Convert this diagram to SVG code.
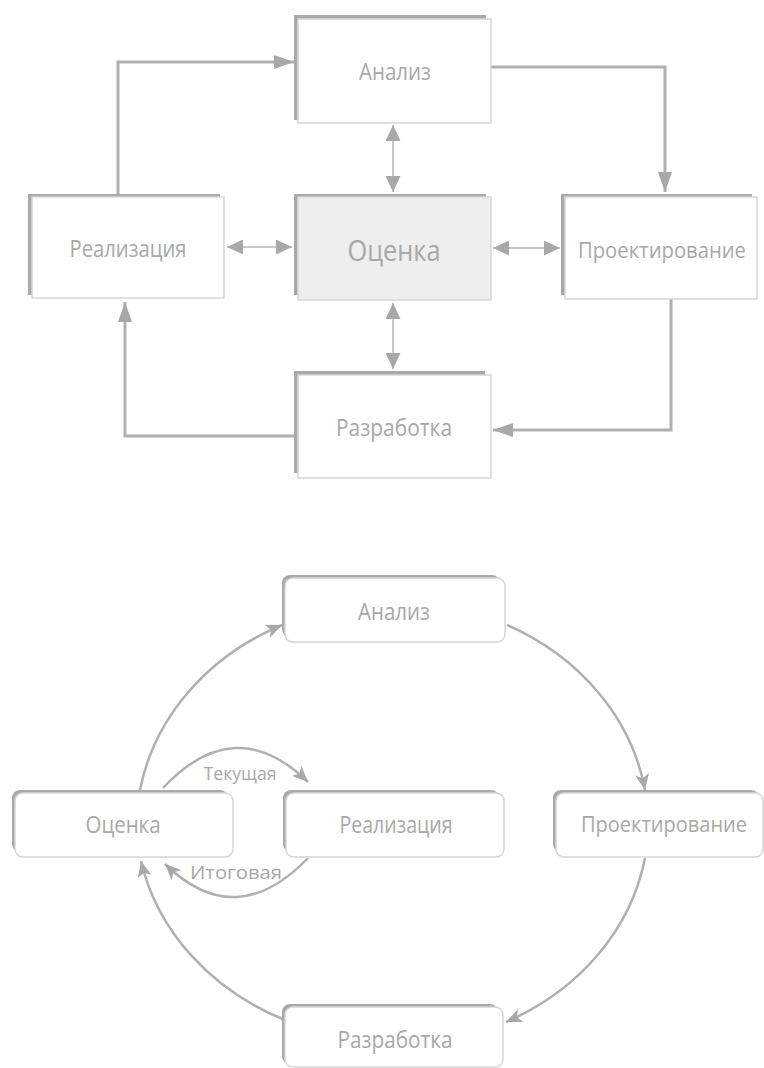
<svg xmlns="http://www.w3.org/2000/svg" width="764" height="1068" viewBox="0 0 764 1068">
<defs>
<style>
.sh{fill:#a9a9a9;}
.bx{fill:#ffffff;stroke:#d6d6d6;stroke-width:1.5;}
.bxc{fill:#eeeeee;stroke:#d6d6d6;stroke-width:1.5;}
.t{font-family:"Open Sans","Noto Sans",sans-serif;font-size:23px;fill:#a8a8a8;text-anchor:middle;}
.tn{font-family:"Open Sans","Noto Sans",sans-serif;font-size:21px;fill:#a8a8a8;text-anchor:middle;}
.tb{font-family:"Open Sans","Noto Sans",sans-serif;font-size:30px;fill:#a8a8a8;text-anchor:middle;}
.ts{font-family:"Open Sans","Noto Sans",sans-serif;font-size:19px;fill:#a8a8a8;text-anchor:middle;}
.c{fill:none;stroke:#b0b0b0;stroke-width:3;}
.d{fill:none;stroke:#c8c8c8;stroke-width:2;}
.a{fill:none;stroke:#b0b0b0;stroke-width:2.5;}
</style>
<marker id="ah" markerUnits="userSpaceOnUse" markerWidth="20" markerHeight="14" refX="20" refY="7" orient="auto"><path d="M0,0 L20,7 L0,14 Z" fill="#a8a8a8"/></marker>
<marker id="dh" markerUnits="userSpaceOnUse" markerWidth="16" markerHeight="15" refX="16" refY="7.5" orient="auto-start-reverse"><path d="M0,0 L16,7.5 L0,15 Z" fill="#a8a8a8"/></marker>
<marker id="bh" markerUnits="userSpaceOnUse" markerWidth="16" markerHeight="14" refX="16" refY="7" orient="auto"><path d="M0,0 L16,7 L0,14 L4,7 Z" fill="#a8a8a8"/></marker>
</defs>

<g id="connectors">
<path class="c" d="M491,67 H665 V192" marker-end="url(#ah)"/>
<path class="c" d="M118,194 V62 H294" marker-end="url(#ah)"/>
<path class="c" d="M671,299 V430 H493" marker-end="url(#ah)"/>
<path class="c" d="M295,436 H125 V302" marker-end="url(#ah)"/>
<path class="d" d="M393,125 V192" marker-start="url(#dh)" marker-end="url(#dh)"/>
<path class="d" d="M393,303 V369" marker-start="url(#dh)" marker-end="url(#dh)"/>
<path class="d" d="M227,247 H292" marker-start="url(#dh)" marker-end="url(#dh)"/>
<path class="d" d="M493,248 H560" marker-start="url(#dh)" marker-end="url(#dh)"/>

<path class="a" d="M140,790 A255,225 0 0 1 282,625" marker-end="url(#bh)"/>
<path class="a" d="M507,625 A255,225 0 0 1 645,790" marker-end="url(#bh)"/>
<path class="a" d="M645,858 A255,225 0 0 1 506,1022" marker-end="url(#bh)"/>
<path class="a" d="M285,1020 A255,225 0 0 1 141,861" marker-end="url(#bh)"/>
<path class="a" d="M163,788 Q235,711 308,782" marker-end="url(#bh)"/>
<path class="a" d="M308,858 Q236,933 165,864" marker-end="url(#bh)"/>
</g>

<g id="top-analiz">
<rect class="sh" x="294" y="15" width="192" height="105"/>
<rect class="bx" x="298" y="19" width="193" height="104"/>
<text class="t" x="395" y="80" textLength="72" lengthAdjust="spacingAndGlyphs">Анализ</text>
</g>
<g id="top-realizatsiya">
<rect class="sh" x="28" y="194" width="192" height="101"/>
<rect class="bx" x="32" y="197" width="192" height="101"/>
<text class="t" x="128" y="257" textLength="117" lengthAdjust="spacingAndGlyphs">Реализация</text>
</g>
<g id="top-otsenka">
<rect class="sh" x="294" y="194" width="192" height="101"/>
<rect class="bxc" x="298" y="197" width="193" height="103"/>
<text class="tb" x="394" y="261" textLength="93" lengthAdjust="spacingAndGlyphs">Оценка</text>
</g>
<g id="top-proektirovanie">
<rect class="sh" x="561" y="194" width="191" height="101"/>
<rect class="bx" x="565" y="197" width="192" height="102"/>
<text class="tn" x="662" y="258" textLength="168" lengthAdjust="spacingAndGlyphs">Проектирование</text>
</g>
<g id="top-razrabotka">
<rect class="sh" x="294" y="371" width="191" height="102"/>
<rect class="bx" x="298" y="375" width="193" height="103"/>
<text class="t" x="394" y="436" textLength="116" lengthAdjust="spacingAndGlyphs">Разработка</text>
</g>

<g id="bottom-analiz">
<rect class="sh" x="282" y="575" width="218" height="62" rx="8"/>
<rect class="bx" x="285" y="578" width="220" height="64" rx="8"/>
<text class="t" x="394" y="620" textLength="72" lengthAdjust="spacingAndGlyphs">Анализ</text>
</g>
<g id="bottom-otsenka">
<rect class="sh" x="12" y="790" width="216" height="62" rx="8"/>
<rect class="bx" x="15" y="793" width="218" height="64" rx="8"/>
<text class="t" x="123" y="833" textLength="75" lengthAdjust="spacingAndGlyphs">Оценка</text>
</g>
<g id="bottom-realizatsiya">
<rect class="sh" x="283" y="790" width="216" height="62" rx="8"/>
<rect class="bx" x="286" y="793" width="218" height="64" rx="8"/>
<text class="t" x="396" y="833" textLength="113" lengthAdjust="spacingAndGlyphs">Реализация</text>
</g>
<g id="bottom-proektirovanie">
<rect class="sh" x="553" y="790" width="206" height="62" rx="8"/>
<rect class="bx" x="556" y="793" width="207" height="64" rx="8"/>
<text class="tn" x="664" y="832" textLength="166" lengthAdjust="spacingAndGlyphs">Проектирование</text>
</g>
<g id="bottom-razrabotka">
<rect class="sh" x="282" y="1004" width="216" height="60" rx="8"/>
<rect class="bx" x="285" y="1007" width="218" height="60" rx="8"/>
<text class="t" x="395" y="1048" textLength="115" lengthAdjust="spacingAndGlyphs">Разработка</text>
</g>

<g id="labels">
<text class="ts" x="240" y="780" textLength="73" lengthAdjust="spacingAndGlyphs">Текущая</text>
<text class="ts" x="236" y="879" textLength="92" lengthAdjust="spacingAndGlyphs">Итоговая</text>
</g>
</svg>
